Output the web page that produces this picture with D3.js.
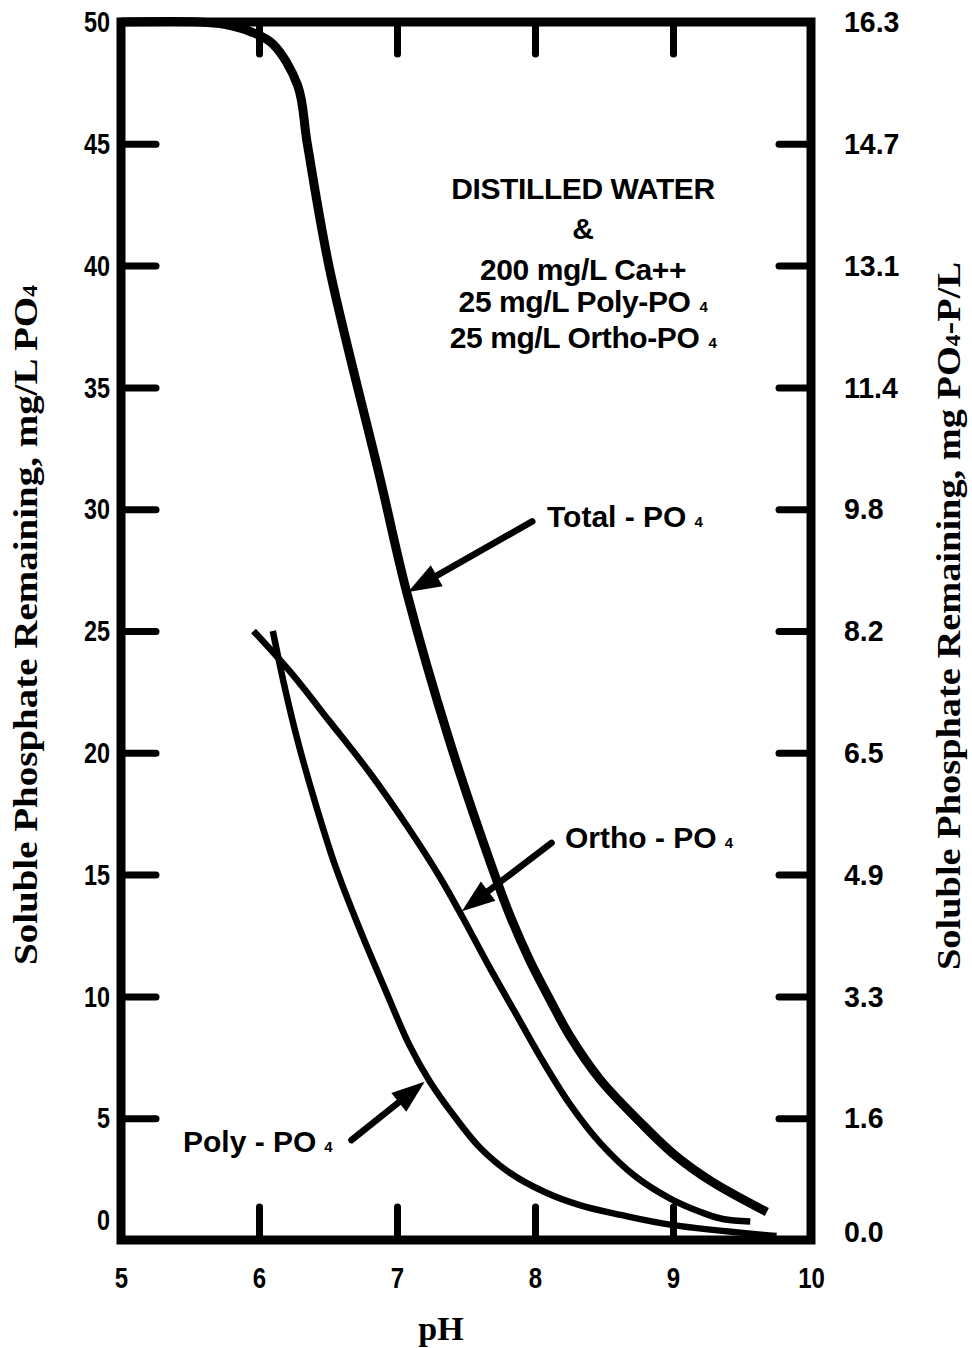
<!DOCTYPE html>
<html>
<head>
<meta charset="utf-8">
<script src="https://cdn.jsdelivr.net/npm/d3@7/dist/d3.min.js"></script>
<style>
  html, body { margin: 0; padding: 0; background: #fff; }
  svg { display: block; }
  .tick text { font-family: "Liberation Sans", Arial, sans-serif; font-weight: bold; font-size: 30px; fill: #000; }
  .ann { font-family: "Liberation Sans", Arial, sans-serif; font-weight: bold; font-size: 30px; fill: #000; }
  .title { font-family: "Liberation Serif", "Times New Roman", serif; font-weight: bold; fill: #000; }
</style>
</head>
<body>
<svg id="chart" width="972" height="1348"></svg>
<script>
// ---- data ----
const xTicks = [5, 6, 7, 8, 9, 10];
const yTicks = [0, 5, 10, 15, 20, 25, 30, 35, 40, 45, 50];
const rightTickLabels = ["0.0", "1.6", "3.3", "4.9", "6.5", "8.2", "9.8", "11.4", "13.1", "14.7", "16.3"];

const totalPH  = [5.0, 5.57, 5.75, 5.94, 6.10, 6.28, 6.35, 6.51, 6.88, 7.07, 7.38, 7.67, 7.82, 7.96, 8.11, 8.25, 8.47, 8.76, 9.01, 9.28, 9.68];
const totalVal = [50, 50, 49.9, 49.6, 49.1, 47.4, 45.0, 39.9, 31.2, 26.6, 20.5, 15.6, 13.3, 11.5, 9.85, 8.4, 6.6, 4.85, 3.5, 2.4, 1.15];

const orthoPH  = [5.96, 6.23, 6.51, 6.80, 7.09, 7.31, 7.47, 7.67, 7.86, 8.04, 8.25, 8.47, 8.73, 8.99, 9.20, 9.36, 9.56];
const orthoVal = [25.0, 23.3, 21.3, 19.2, 16.85, 14.9, 13.3, 11.2, 9.3, 7.5, 5.6, 4.0, 2.6, 1.67, 1.15, 0.86, 0.76];

const polyPH  = [6.10, 6.19, 6.28, 6.41, 6.55, 6.72, 6.91, 7.09, 7.24, 7.42, 7.60, 7.82, 8.07, 8.33, 8.62, 8.99, 9.75];
const polyVal = [25.0, 22.6, 20.5, 17.9, 15.4, 12.9, 10.34, 8.0, 6.49, 5.05, 3.8, 2.75, 1.97, 1.42, 1.03, 0.62, 0.16];

// arrows: [tail pH, tail value, tip pH, tip value]
const arrowTotal = [7.98, 29.5, 7.08, 26.6];
const arrowOrtho = [8.12, 16.3, 7.47, 13.5];
const arrowPoly  = [6.67, 4.1, 7.20, 6.5];

// ---- drawing ----
const svg = d3.select("#chart");
const x = d3.scaleLinear().domain([5, 10]).range([121, 811]);
const y = d3.scaleLinear().domain([0, 50]).range([1240, 22]);

// frame
svg.append("rect")
  .attr("x", x(5)).attr("y", y(50))
  .attr("width", x(10) - x(5)).attr("height", y(0) - y(50))
  .attr("fill", "none").attr("stroke", "#000").attr("stroke-width", 9);

function styleAxis(g) {
  g.select(".domain").remove();
  g.selectAll(".tick line").attr("stroke", "#000").attr("stroke-width", 7).attr("stroke-linecap", "round");
}

// left axis
const sL = 0.78;
const gL = svg.append("g").attr("transform", `translate(${x(5)},0)`)
  .call(d3.axisLeft(y).tickValues(yTicks).tickSizeInner(-35).tickSizeOuter(0).tickPadding(11).tickFormat(d3.format("d")))
  .call(styleAxis);
gL.selectAll(".tick").filter(d => d === 0 || d === 50).select("line").remove();
gL.selectAll(".tick text").attr("transform", `scale(${sL},1)`).attr("x", -11 / sL);
gL.selectAll(".tick").filter(d => d === 0).select("text").attr("dy", "-0.35em");

// right axis
const gR = svg.append("g").attr("transform", `translate(${x(10)},0)`)
  .call(d3.axisRight(y).tickValues(yTicks).tickSizeInner(-32).tickSizeOuter(0).tickPadding(33).tickFormat((d, i) => rightTickLabels[i]))
  .call(styleAxis);
gR.selectAll(".tick").filter(d => d === 0 || d === 50).select("line").remove();
gR.selectAll(".tick text").attr("transform", "scale(0.95,1)").attr("x", 33 / 0.95);
gR.selectAll(".tick").filter(d => d === 0).select("text").attr("dy", "0.05em");

// bottom axis
const gB = svg.append("g").attr("transform", `translate(0,${y(0)})`)
  .call(d3.axisBottom(x).tickValues(xTicks).tickSizeInner(-33).tickSizeOuter(0).tickPadding(27).tickFormat(d3.format("d")))
  .call(styleAxis);
gB.selectAll(".tick").filter(d => d === 5 || d === 10).select("line").remove();
gB.selectAll(".tick text").attr("transform", "scale(0.8,1)");

// top axis (ticks only)
svg.append("g").attr("transform", `translate(0,${y(50)})`)
  .call(d3.axisTop(x).tickValues(xTicks.filter(d => d > 5 && d < 10)).tickSizeInner(-32).tickSizeOuter(0).tickFormat(""))
  .call(styleAxis);

// curves
const line = d3.line().x(d => x(d[0])).y(d => y(d[1])).curve(d3.curveCatmullRom.alpha(0.5));
function drawCurve(ph, val, w) {
  svg.append("path")
    .datum(ph.map((p, i) => [p, val[i]]))
    .attr("d", line)
    .attr("fill", "none").attr("stroke", "#000").attr("stroke-width", w)
    .attr("stroke-linejoin", "round").attr("stroke-linecap", "butt");
}
drawCurve(totalPH, totalVal, 9);
drawCurve(orthoPH, orthoVal, 6.5);
drawCurve(polyPH, polyVal, 6.5);

// arrows
function drawArrow(a) {
  const x1 = x(a[0]), y1 = y(a[1]), x2 = x(a[2]), y2 = y(a[3]);
  const ang = Math.atan2(y2 - y1, x2 - x1);
  const hl = 33, hw = 12;
  const bx = x2 - hl * Math.cos(ang), by = y2 - hl * Math.sin(ang);
  svg.append("line").attr("x1", x1).attr("y1", y1).attr("x2", bx + 4 * Math.cos(ang)).attr("y2", by + 4 * Math.sin(ang))
    .attr("stroke", "#000").attr("stroke-width", 6.5).attr("stroke-linecap", "round");
  const px = -Math.sin(ang), py = Math.cos(ang);
  svg.append("path")
    .attr("d", `M${x2},${y2}L${bx + hw * px},${by + hw * py}L${bx - hw * px},${by - hw * py}Z`)
    .attr("fill", "#000");
}
drawArrow(arrowTotal);
drawArrow(arrowOrtho);
drawArrow(arrowPoly);

// series labels
function seriesLabel(tx, ty, main) {
  const t = svg.append("text").attr("class", "ann").attr("x", tx).attr("y", ty);
  t.append("tspan").text(main);
  t.append("tspan").attr("font-size", 15).attr("dx", 8).text("4");
}
seriesLabel(547, 527, "Total - PO");
seriesLabel(565, 848, "Ortho - PO");
seriesLabel(183, 1152, "Poly - PO");

// condition block
const cond = [
  ["DISTILLED WATER", null, 199],
  ["&", null, 239],
  ["200 mg/L Ca++", null, 280],
  ["25 mg/L Poly-PO", "4", 312],
  ["25 mg/L Ortho-PO", "4", 348]
];
cond.forEach(c => {
  const t = svg.append("text").attr("class", "ann").attr("x", 583).attr("y", c[2])
    .attr("text-anchor", "middle").attr("font-size", 31).attr("letter-spacing", -0.4);
  t.append("tspan").text(c[0]);
  if (c[1]) t.append("tspan").attr("font-size", 15).attr("dx", 9).text(c[1]);
});

// axis titles
const lt = svg.append("text").attr("class", "title")
  .attr("transform", "translate(37,625) rotate(-90)")
  .attr("text-anchor", "middle").attr("font-size", 33)
  .attr("textLength", 680).attr("lengthAdjust", "spacingAndGlyphs");
lt.append("tspan").text("Soluble Phosphate Remaining, mg/L PO");
lt.append("tspan").attr("font-size", 20).text("4");

const rt = svg.append("text").attr("class", "title")
  .attr("transform", "translate(960,616) rotate(-90)")
  .attr("text-anchor", "middle").attr("font-size", 33)
  .attr("textLength", 708).attr("lengthAdjust", "spacingAndGlyphs");
rt.append("tspan").text("Soluble Phosphate Remaining, mg PO");
rt.append("tspan").attr("font-size", 20).text("4");
rt.append("tspan").text("-P/L");

svg.append("text").attr("class", "title")
  .attr("x", 441).attr("y", 1340).attr("text-anchor", "middle").attr("font-size", 34)
  .text("pH");
</script>
</body>
</html>
